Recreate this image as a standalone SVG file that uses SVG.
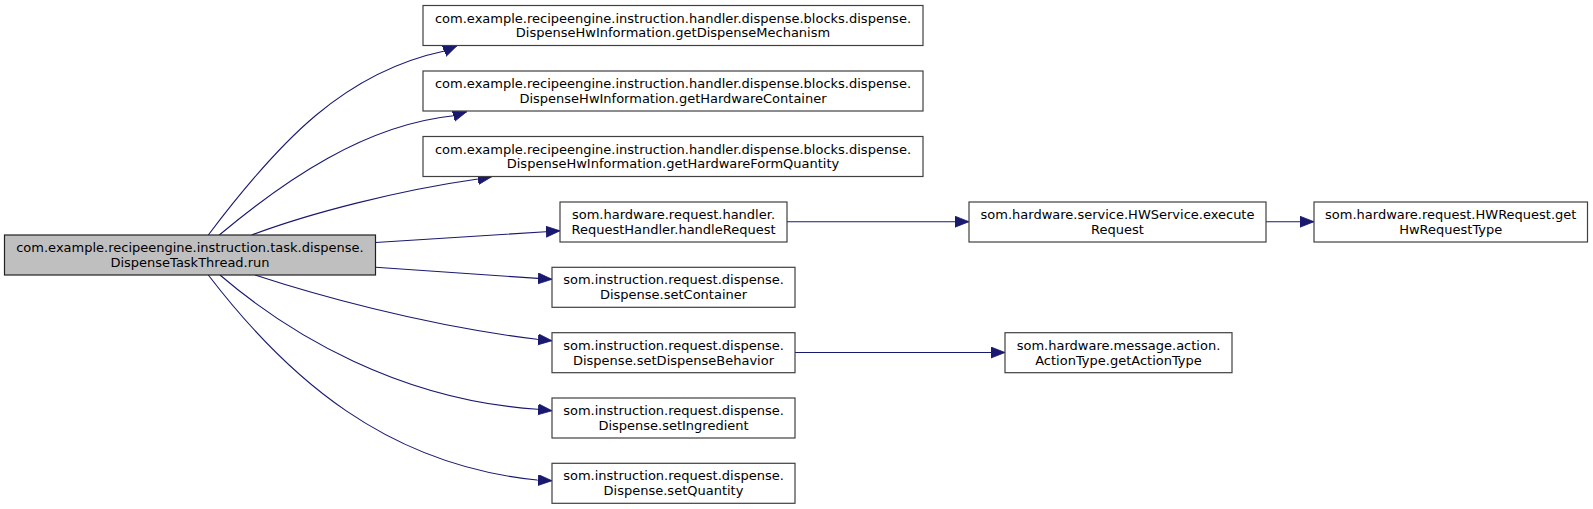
<svg xmlns="http://www.w3.org/2000/svg" width="1593" height="509" viewBox="0 0 1593 509">
<style>
.n rect{fill:#ffffff;stroke:#404040;stroke-width:1.2}
.n.main rect{fill:#bfbfbf;stroke:#202020}
.n text{font-family:"DejaVu Sans",sans-serif;font-size:13px;fill:#000;text-anchor:middle}
.e path{fill:none;stroke:#191970;stroke-width:1.1;marker-end:url(#ah)}
</style>
<defs>
<marker id="ah" markerUnits="userSpaceOnUse" markerWidth="15" markerHeight="12" refX="14" refY="5.5" orient="auto">
<path d="M0,0 L14,5.5 L0,11 z" fill="#191970" stroke="#191970" stroke-width="0.8"/>
</marker>
</defs>
<rect width="1593" height="509" fill="#ffffff"/>
<g id="connectors" class="e">
<path d="M208.3,235 C280,140 345,72 444.5,51 L457,45.7"/>
<path d="M219.3,235 C285,180 365,125 453.5,115.8 L466.7,111.7"/>
<path d="M251.7,235 C310,213 400,190 478,179 L491.7,176.7"/>
<path d="M375.5,242.5 L546,231.7 L560,230.8"/>
<path d="M375.5,267.3 L538,278.4 L552,279.3"/>
<path d="M255,275 C310,293 420,325 537,339.3 L552,340.7"/>
<path d="M220,275 C290,335 400,400 537.5,409.3 L552,410.7"/>
<path d="M208.3,275 C288,379 387,465 537,480 L552,480.7"/>
<path d="M787,221.7 L969,221.7"/>
<path d="M1266,221.7 L1314,221.7"/>
<path d="M795,352.5 L1005,352.5"/>
</g>
<g id="node_run" class="n main">
<rect x="4.5" y="235" width="371" height="40"/>
<text x="190" y="252">com.example.recipeengine.instruction.task.dispense.</text>
<text x="190" y="266.8">DispenseTaskThread.run</text>
</g>
<g id="node_getDispenseMechanism" class="n">
<rect x="423" y="5.5" width="500" height="40"/>
<text x="673" y="22.5">com.example.recipeengine.instruction.handler.dispense.blocks.dispense.</text>
<text x="673" y="37.3">DispenseHwInformation.getDispenseMechanism</text>
</g>
<g id="node_getHardwareContainer" class="n">
<rect x="423" y="71" width="500" height="40"/>
<text x="673" y="88">com.example.recipeengine.instruction.handler.dispense.blocks.dispense.</text>
<text x="673" y="102.8">DispenseHwInformation.getHardwareContainer</text>
</g>
<g id="node_getHardwareFormQuantity" class="n">
<rect x="423" y="136.5" width="500" height="40"/>
<text x="673" y="153.5">com.example.recipeengine.instruction.handler.dispense.blocks.dispense.</text>
<text x="673" y="168.3">DispenseHwInformation.getHardwareFormQuantity</text>
</g>
<g id="node_handleRequest" class="n">
<rect x="560" y="202" width="227" height="40"/>
<text x="673.5" y="219">som.hardware.request.handler.</text>
<text x="673.5" y="233.8">RequestHandler.handleRequest</text>
</g>
<g id="node_setContainer" class="n">
<rect x="552" y="267.3" width="243" height="40"/>
<text x="673.5" y="284.3">som.instruction.request.dispense.</text>
<text x="673.5" y="299.1">Dispense.setContainer</text>
</g>
<g id="node_setDispenseBehavior" class="n">
<rect x="552" y="332.7" width="243" height="40"/>
<text x="673.5" y="349.7">som.instruction.request.dispense.</text>
<text x="673.5" y="364.5">Dispense.setDispenseBehavior</text>
</g>
<g id="node_setIngredient" class="n">
<rect x="552" y="398" width="243" height="40"/>
<text x="673.5" y="415">som.instruction.request.dispense.</text>
<text x="673.5" y="429.8">Dispense.setIngredient</text>
</g>
<g id="node_setQuantity" class="n">
<rect x="552" y="463.3" width="243" height="40"/>
<text x="673.5" y="480.3">som.instruction.request.dispense.</text>
<text x="673.5" y="495.1">Dispense.setQuantity</text>
</g>
<g id="node_executeRequest" class="n">
<rect x="969" y="202" width="297" height="40"/>
<text x="1117.5" y="219">som.hardware.service.HWService.execute</text>
<text x="1117.5" y="233.8">Request</text>
</g>
<g id="node_getHwRequestType" class="n">
<rect x="1314" y="202" width="273.5" height="40"/>
<text x="1450.75" y="219">som.hardware.request.HWRequest.get</text>
<text x="1450.75" y="233.8">HwRequestType</text>
</g>
<g id="node_getActionType" class="n">
<rect x="1005" y="332.7" width="227" height="40"/>
<text x="1118.5" y="349.7">som.hardware.message.action.</text>
<text x="1118.5" y="364.5">ActionType.getActionType</text>
</g>
</svg>
